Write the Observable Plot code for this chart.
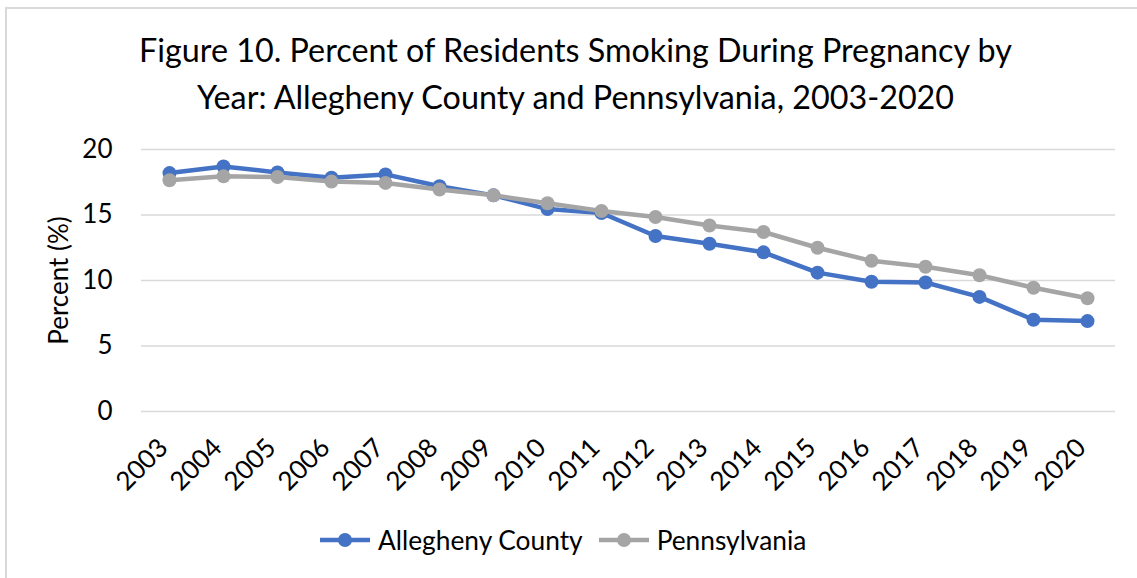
<!DOCTYPE html>
<html>
<head>
<meta charset="utf-8">
<script src="https://cdn.jsdelivr.net/npm/d3@7"></script>
<script src="https://cdn.jsdelivr.net/npm/@observablehq/plot@0.6"></script>
<style>
  html, body { margin: 0; padding: 0; background: #fff; }
  #chart { position: relative; width: 1137px; height: 578px; overflow: hidden; font-family: Lato, sans-serif; color: #000; background: #fff; }
  #frame { position: absolute; left: 5px; top: 7px; width: 1200px; height: 700px; border: 2px solid #d9d9d9; box-sizing: border-box; }
  #title { position: absolute; left: 7px; top: 26px; width: 1137px; text-align: center; font-size: 32.3px; line-height: 47px; }
  #plot { position: absolute; left: 0; top: 125px; }
  #legend { position: absolute; left: 320px; top: 522px; height: 36px; display: flex; align-items: center; font-size: 26.3px; }
  #legend .item { display: flex; align-items: center; }
  #legend .item + .item { margin-left: 16px; }
  #legend svg { margin-right: 8px; }
</style>
</head>
<body>
<div id="chart">
  <div id="frame"></div>
  <div id="title">Figure 10. Percent of Residents Smoking During Pregnancy by<br>Year: Allegheny County and Pennsylvania, 2003-2020</div>
  <div id="plot"></div>
  <div id="legend"></div>
</div>
<script>
const years = ["2003","2004","2005","2006","2007","2008","2009","2010","2011","2012","2013","2014","2015","2016","2017","2018","2019","2020"];
const allegheny = [18.2, 18.7, 18.25, 17.85, 18.1, 17.2, 16.5, 15.45, 15.15, 13.4, 12.8, 12.15, 10.6, 9.9, 9.85, 8.75, 7.0, 6.9];
const pennsylvania = [17.65, 17.95, 17.9, 17.55, 17.45, 16.95, 16.5, 15.9, 15.3, 14.85, 14.2, 13.7, 12.5, 11.5, 11.05, 10.4, 9.45, 8.65];
const seriesNames = ["Allegheny County", "Pennsylvania"];
const seriesColors = ["#4472C4", "#A5A5A5"];
const yTicks = [0, 5, 10, 15, 20];

const seriesValues = [allegheny, pennsylvania];
const data = seriesNames.flatMap((s, k) => years.map((yr, i) => ({year: yr, series: s, value: seriesValues[k][i]})));

const marks = [
  Plot.gridY(yTicks, {stroke: "#d9d9d9", strokeOpacity: 1, strokeWidth: 1.5}),
  Plot.axisY(yTicks, {tickSize: 0, tickPadding: 29, fontSize: 26, label: "Percent (%)", labelAnchor: "center", labelArrow: "none", labelOffset: 92}),
  Plot.axisX({tickSize: 0, tickRotate: -45, tickPadding: 32, dx: -6, fontSize: 26, label: null})
];
seriesNames.forEach((s) => {
  const d = data.filter(r => r.series === s);
  marks.push(Plot.line(d, {x: "year", y: "value", stroke: "series", strokeWidth: 4.5}));
  marks.push(Plot.dot(d, {x: "year", y: "value", fill: "series", r: 7}));
});

const chart = Plot.plot({
  width: 1137, height: 380,
  marginLeft: 141, marginRight: 22, marginTop: 24, marginBottom: 94,
  style: {fontFamily: "Lato, sans-serif", fontSize: "26px", color: "#000", background: "transparent", overflow: "visible"},
  x: {type: "point", domain: years, padding: 0.5, align: 0.5},
  y: {domain: [0, 20]},
  color: {domain: seriesNames, range: seriesColors},
  marks
});
document.getElementById("plot").appendChild(chart);

const legend = document.getElementById("legend");
seriesNames.forEach((s, k) => {
  const item = document.createElement("div");
  item.className = "item";
  item.innerHTML = `<svg width="50" height="16"><line x1="0" x2="50" y1="8" y2="8" stroke="${seriesColors[k]}" stroke-width="4.5" stroke-linecap="round"/><circle cx="25" cy="8" r="7" fill="${seriesColors[k]}"/></svg><span>${s}</span>`;
  legend.appendChild(item);
});
</script>
</body>
</html>
